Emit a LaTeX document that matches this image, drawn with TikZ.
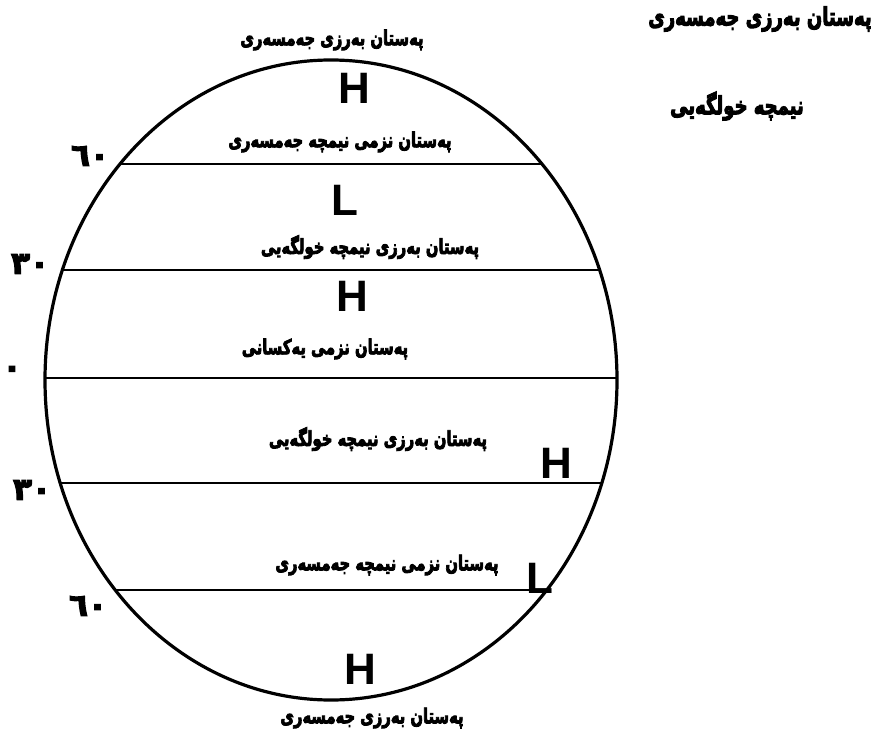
\documentclass[tikz,border=0pt]{standalone}
\usepackage{fontspec}
\TeXXeTstate=1
\newfontfamily\arabicfont[Script=Arabic,FakeBold=4.5]{DejaVu Sans}
\newfontfamily\arabicnum[Script=Arabic,FakeBold=4]{DejaVu Sans}
\newfontfamily\latinfont{Liberation Sans}
\newcommand{\kutext}[1]{\scalebox{0.72}[1]{\arabicfont\bfseries\beginR #1\endR}}
\tikzset{
  ku/.style={font=\fontsize{20.5}{24}\selectfont, inner sep=0pt},
  kubig/.style={font=\fontsize{25}{28}\selectfont, inner sep=0pt},
  num/.style={font=\arabicnum\bfseries\fontsize{31}{34}\selectfont, inner sep=0pt},
  pr/.style={font=\latinfont\bfseries\fontsize{44}{48}\selectfont, inner sep=0pt},
  lat/.style={line width=2pt},
  globe/.style={line width=3.2pt}
}
\begin{document}
\begin{tikzpicture}[x=1pt,y=-1pt]
\useasboundingbox (0,0) rectangle (883,743);
\coordinate (c) at (331,380);
\begin{scope}
  \clip (c) ellipse [x radius=286, y radius=320];
  \foreach \yy/\nm in {164/a,270/b,378/e,483/d,590/f}{
    \coordinate (L\nm) at (0,\yy);
    \coordinate (R\nm) at (883,\yy);
    \draw[lat] (L\nm) -- (R\nm);
  }
\end{scope}
\draw[globe] (c) ellipse [x radius=286, y radius=320];
% texts
\node[ku] (t1) at (332,40) {\kutext{پەستان بەرزی جەمسەری}};
\node[pr] (h1) at (354,88) {H};
\node[ku] (t2) at (340,142) {\kutext{پەستان نزمی نیمچە جەمسەری}};
\node[pr] (l1) at (345,200) {L};
\node[ku] (t3) at (370,247) {\kutext{پەستان بەرزی نیمچە خولگەیی}};
\node[pr] (h2) at (352,296) {H};
\node[ku] (t4) at (325,349) {\kutext{پەستان نزمی یەکسانی}};
\node[ku] (t5) at (378,439) {\kutext{پەستان بەرزی نیمچە خولگەیی}};
\node[pr] (h3) at (556,463) {H};
\node[ku] (t6) at (387,565) {\kutext{پەستان نزمی نیمچە جەمسەری}};
\node[pr] (l2) at (540,578) {L};
\node[pr] (h4) at (360,669) {H};
\node[ku] (t7) at (372,718) {\kutext{پەستان بەرزی جەمسەری}};
\node[kubig] (t8) at (760,19) {\kutext{پەستان بەرزی جەمسەری}};
\node[kubig] (t9) at (737,106) {\kutext{نیمچە خولگەیی}};
% numbers
\node[num] (n1) at (90,156) {٦٠};
\node[num] (n2) at (30,264) {٣٠};
\node[num] (n3) at (12,372) {٠};
\node[num] (n4) at (32,490) {٣٠};
\node[num] (n5) at (88,606) {٦٠};
\end{tikzpicture}
\end{document}
